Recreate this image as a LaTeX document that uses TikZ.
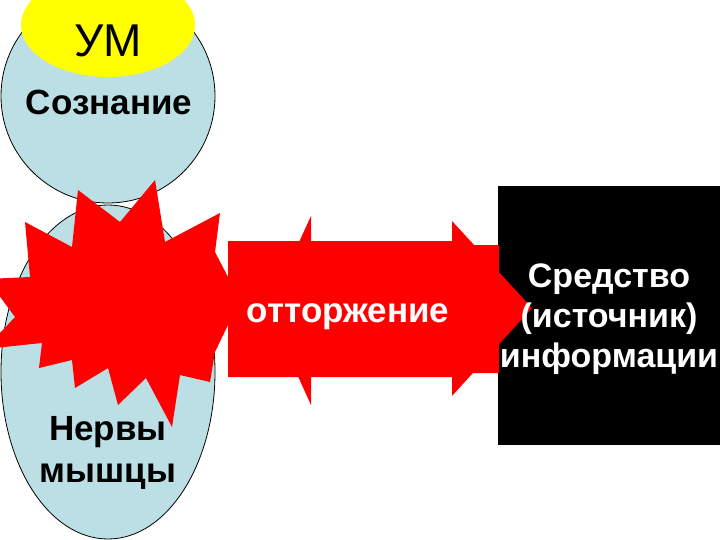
\documentclass[tikz,border=0pt]{standalone}
\usepackage{fontspec}
\setmainfont{Liberation Sans}
\definecolor{lblue}{RGB}{187,223,228}
\definecolor{ymain}{RGB}{255,255,0}
\definecolor{rmain}{RGB}{255,0,0}
\begin{document}
\begin{tikzpicture}[x=1pt,y=-1pt,
  lbl/.style={font=\fontsize{35}{40}\selectfont\bfseries, inner sep=0pt, anchor=base},
  wlbl/.style={font=\fontsize{34}{40}\selectfont\bfseries, inner sep=0pt, anchor=base, text=white},
  organ/.style={draw=black, line width=0.8pt, fill=lblue},
  redshape/.style={fill=rmain}]
\useasboundingbox (0,0) rectangle (720,540);
\clip (0,0) rectangle (720,540);
\fill[white] (0,0) rectangle (720,540);
% organs
\path[organ] (108,96) ellipse [x radius=107pt, y radius=107pt];
\path[organ] (108,372) ellipse [x radius=107pt, y radius=167pt];
\fill[ymain] (108,25) ellipse [x radius=87pt, y radius=52pt];
\node[font=\fontsize{46}{50}\selectfont, inner sep=0pt, anchor=base] (um) at (108,57) {УМ};
\node[lbl] (soz) at (109,115) {Сознание};
\node[lbl] (nerv) at (108,440) {Нервы};
\node[lbl] (mysh) at (108,482) {мышцы};
% black box
\fill[black] (498,186) rectangle (720,445);
% starburst
\path[redshape] (155,180) -- (165,242) -- (220,213) -- (215,252) -- (240,300)
  -- (215,352) -- (210,382) -- (180,375) -- (172,427) -- (146,378)
  -- (118,405) -- (108,368) -- (75,388) -- (72,360) -- (39,368)
  -- (42,343) -- (-15,349) -- (15,317) -- (-13,279) -- (30,277)
  -- (25,222) -- (72,247) -- (78,190) -- (120,222) -- cycle;
% double arrow with body
\path[redshape] (228,241) -- (452,241) -- (452,245) -- (499,245) -- (499,373)
  -- (452,373) -- (452,377) -- (228,377) -- cycle;
\path[redshape] (311,216) -- (268,310) -- (311,405) -- cycle;
\path[redshape] (452,221) -- (532,308) -- (452,396) -- cycle;
\node[wlbl, font=\fontsize{35}{40}\selectfont\bfseries] (ott) at (348,322) {отторжение};
% source text
\node[wlbl] (src1) at (609,287) {Средство};
\node[wlbl] (src2) at (609,327) {(источник)};
\node[wlbl] (src3) at (609,367) {информации};
\end{tikzpicture}
\end{document}
